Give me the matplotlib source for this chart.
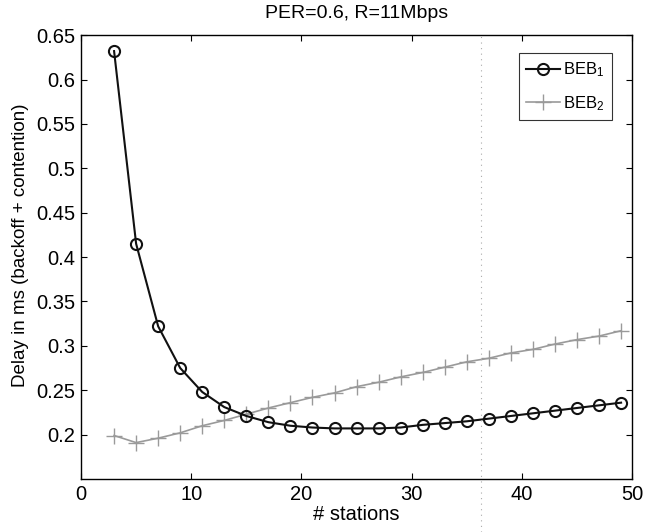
import numpy as np
import matplotlib
matplotlib.use('Agg')
from matplotlib import pyplot as plt
from matplotlib.lines import Line2D

#Data
stations = [3, 5, 7, 9, 11, 13, 15, 17, 19, 21, 23, 25,
            27, 29, 31, 33, 35, 37, 39, 41, 43, 45, 47, 49]
beb1 = [0.632, 0.415, 0.322, 0.275, 0.248, 0.231, 0.221, 0.214, 0.210, 0.208, 0.207, 0.207,
        0.207, 0.208, 0.211, 0.213, 0.215, 0.218, 0.221, 0.224, 0.227, 0.230, 0.233, 0.236]
beb2 = [0.199, 0.191, 0.196, 0.202, 0.210, 0.216, 0.223, 0.230, 0.236, 0.242, 0.247, 0.254,
        0.259, 0.265, 0.270, 0.276, 0.282, 0.286, 0.292, 0.296, 0.302, 0.307, 0.311, 0.317]
xTicks = [0, 10, 20, 30, 40, 50]
yTicks = [0.2, 0.25, 0.3, 0.35, 0.4, 0.45, 0.5, 0.55, 0.6, 0.65]
yTickLabels = ['0.2', '0.25', '0.3', '0.35', '0.4', '0.45', '0.5', '0.55', '0.6', '0.65']

plt.rcParams['font.family'] = ['Liberation Sans', 'DejaVu Sans']
plt.rcParams['mathtext.fontset'] = 'custom'
plt.rcParams['mathtext.rm'] = 'Liberation Sans'
plt.rcParams['mathtext.it'] = 'Liberation Sans'

fig = plt.figure(figsize=(6.45, 5.32), dpi=100)
ax = fig.add_axes([0.1256, 0.0996, 0.8544, 0.8344])

ax.plot(stations, beb2, color='#9a9a9a', linewidth=1.2, marker='+', markersize=11,
        markeredgewidth=1.0, label='BEB$_\\mathrm{2}$', zorder=2)
ax.plot(stations, beb1, color='#111111', linewidth=1.5, marker='o', markersize=8,
        markerfacecolor='none', markeredgewidth=1.5, label='BEB$_\\mathrm{1}$', zorder=3)

ax.set_xlim(0, 50)
ax.set_ylim(0.15, 0.65)
ax.set_xticks(xTicks)
ax.set_yticks(yTicks)
ax.set_yticklabels(yTickLabels)
ax.tick_params(direction='in', top=True, right=True, labelsize=14.5, length=4, width=0.8, pad=4)
for s in ax.spines.values():
    s.set_linewidth(1.0)

ax.set_title('PER=0.6, R=11Mbps', fontsize=14, pad=12)
ax.set_xlabel('# stations', fontsize=14.5, labelpad=1)
ax.set_ylabel('Delay in ms (backoff + contention)', fontsize=13.5)
ax.yaxis.set_label_coords(-0.094, 0.527)

#Legend in original order: BEB1 then BEB2
handles, labels = ax.get_legend_handles_labels()
leg = ax.legend(handles[::-1], labels[::-1], loc='upper right', fontsize=12,
                bbox_to_anchor=(0.9635, 0.9595), fancybox=False, edgecolor='black',
                handlelength=2.0, handletextpad=0.2, borderpad=0.45, labelspacing=0.9,
                borderaxespad=0)
leg.get_frame().set_linewidth(0.8)

#Faint dotted scan line
fig.add_artist(Line2D([481 / 645, 481 / 645], [0.0, 1 - 35 / 532], color='#aaaaaa',
                      linestyle=(0, (1, 4)), linewidth=0.8, transform=fig.transFigure))

fig.savefig('out.png', dpi=100)
plt.close('all')
